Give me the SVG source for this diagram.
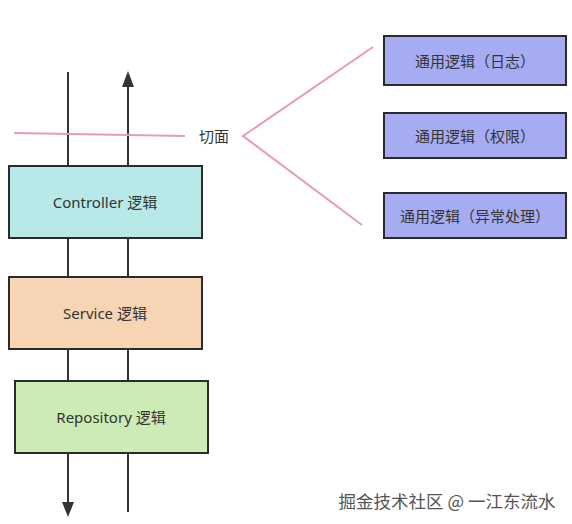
<svg xmlns="http://www.w3.org/2000/svg" width="572" height="524" viewBox="0 0 572 524">
<defs>
<style>
.box{stroke:#2b2b2b;stroke-width:2}
.t{font-family:"Noto Sans","Noto Sans CJK SC",sans-serif;font-size:15px;fill:#333;text-anchor:middle;dominant-baseline:central}
.ln{stroke:#333;stroke-width:2;fill:none}
.pk{stroke:#eb9ab4;stroke-width:2;fill:none}
</style>
</defs>
<rect width="572" height="524" fill="#fff"/>
<g id="connectors">
<line class="ln" x1="68" y1="72" x2="68" y2="503"/>
<path d="M62,502 L74,502 L68,517 z" fill="#333"/>
<line class="ln" x1="128" y1="512" x2="128" y2="86"/>
<path d="M122,87 L134,87 L128,71 z" fill="#333"/>
<line class="pk" x1="14" y1="133" x2="185" y2="136"/>
<polyline class="pk" points="373,47 243,136 362,225"/>
</g>
<g id="label-qiemian"><text class="t" x="214" y="136">切面</text></g>
<g id="controller"><rect class="box" x="9" y="166" width="193" height="72" fill="#b6e9e8"/><text class="t" x="105" y="202">Controller 逻辑</text></g>
<g id="service"><rect class="box" x="9" y="277" width="193" height="72" fill="#f6d4b4"/><text class="t" x="105" y="313">Service 逻辑</text></g>
<g id="repository"><rect class="box" x="15" y="381" width="193" height="72" fill="#cdebb4"/><text class="t" x="111" y="417">Repository 逻辑</text></g>
<g id="log"><rect class="box" x="384" y="36" width="182" height="49" fill="#a6acf1"/><text class="t" x="475" y="61">通用逻辑（日志）</text></g>
<g id="auth"><rect class="box" x="384" y="113" width="182" height="45" fill="#a6acf1"/><text class="t" x="475" y="136">通用逻辑（权限）</text></g>
<g id="exception"><rect class="box" x="384" y="193" width="182" height="45" fill="#a6acf1"/><text class="t" x="475" y="216">通用逻辑（异常处理）</text></g>
<text x="447" y="500" font-family="Noto Sans CJK SC, sans-serif" font-size="17.5" fill="#555" text-anchor="middle" dominant-baseline="central">掘金技术社区 @ 一江东流水</text>
</svg>
